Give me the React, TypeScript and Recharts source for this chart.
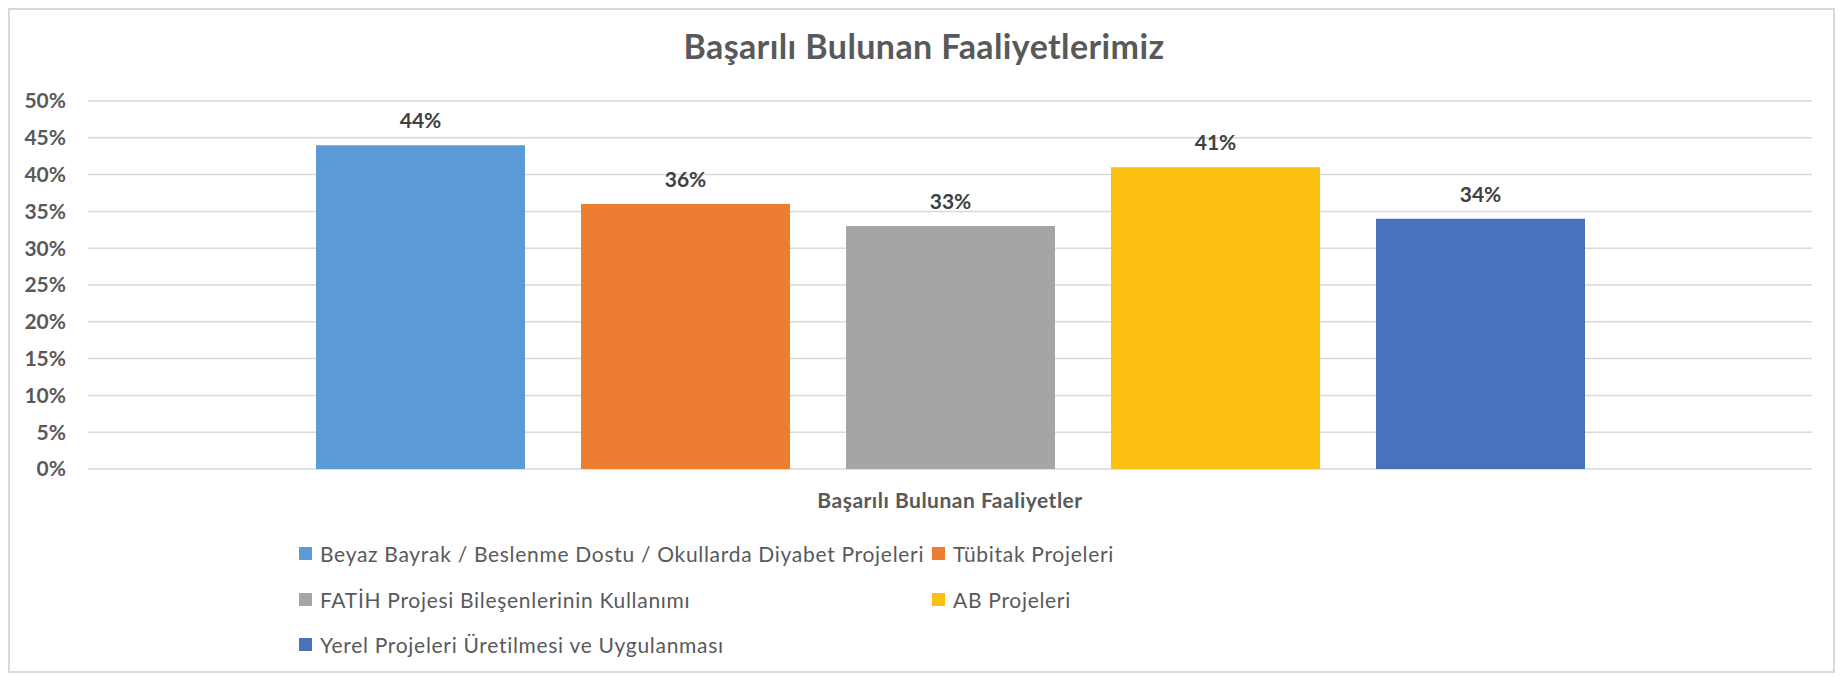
import { BarChart, Bar, XAxis, YAxis, CartesianGrid, LabelList } from "recharts";

const categories = ["Başarılı Bulunan Faaliyetler"];

const seriesNames = [
  "Beyaz Bayrak / Beslenme Dostu / Okullarda Diyabet Projeleri",
  "Tübitak Projeleri",
  "FATİH Projesi Bileşenlerinin Kullanımı",
  "AB Projeleri",
  "Yerel Projeleri Üretilmesi ve Uygulanması",
];

const seriesValues = [44, 36, 33, 41, 34];

const yTicks = [0, 5, 10, 15, 20, 25, 30, 35, 40, 45, 50];

const COLORS = ["#5B9BD5", "#ED7D31", "#A5A5A5", "#FCC012", "#4A72BC"];

const FONT = "Lato, 'Open Sans', sans-serif";

const data = categories.map((name) => {
  const row: Record<string, string | number> = { name };
  seriesValues.forEach((v, i) => {
    row[`s${i}`] = v;
  });
  return row;
});

export default function App() {
  return (
    <div style={{ position: "relative", width: 1843, height: 681, margin: -8, background: "#fff", fontFamily: FONT }}>
      <div
        style={{
          position: "absolute",
          left: 0,
          width: 1848,
          top: 29,
          textAlign: "center",
          fontSize: 34,
          lineHeight: "34px",
          letterSpacing: 0.4,
          fontWeight: 700,
          color: "#595959",
        }}
      >
        Başarılı Bulunan Faaliyetlerimiz
      </div>

      <BarChart
        width={1843}
        height={681}
        data={data}
        margin={{ top: 101, right: 31, bottom: 152, left: 8 }}
        barGap={56}
        style={{ position: "absolute", left: 0, top: 0 }}
      >
        {/* chart frame */}
        <rect x={9} y={9} width={1825} height={663} fill="none" stroke="#d9d9d9" strokeWidth={2} />
        <CartesianGrid vertical={false} stroke="#d9d9d9" strokeWidth={1.5} />
        <XAxis
          dataKey="name"
          height={60}
          axisLine={false}
          tickLine={false}
          tickSize={0}
          tickMargin={24}
          tick={{ fill: "#595959", fontSize: 21, fontWeight: 700, fontFamily: FONT, letterSpacing: 0.5 }}
        />
        <YAxis
          width={80}
          domain={[0, 50]}
          ticks={yTicks}
          interval={0}
          axisLine={false}
          tickLine={false}
          tickSize={0}
          tickMargin={22}
          tickFormatter={(v: number) => `${v}%`}
          tick={{ fill: "#595959", fontSize: 21, fontWeight: 700, fontFamily: FONT }}
        />
        {seriesNames.map((n, i) => (
          <Bar key={n} dataKey={`s${i}`} name={n} fill={COLORS[i]} barSize={209} isAnimationActive={false}>
            <LabelList
              dataKey={`s${i}`}
              position="top"
              offset={17}
              formatter={(v: number) => `${v}%`}
              style={{ fill: "#404040", fontSize: 21, fontWeight: 700, fontFamily: FONT }}
            />
          </Bar>
        ))}
      </BarChart>

      <div
        style={{
          position: "absolute",
          left: 299,
          top: 531,
          display: "grid",
          gridTemplateColumns: "633px auto",
          gridAutoRows: "45.5px",
          fontSize: 21,
          letterSpacing: 0.7,
          color: "#595959",
        }}
      >
        {seriesNames.map((n, i) => (
          <div key={n} style={{ display: "flex", alignItems: "center", whiteSpace: "nowrap" }}>
            <span style={{ width: 13, height: 13, background: COLORS[i], marginRight: 8, flexShrink: 0 }} />
            <span>{n}</span>
          </div>
        ))}
      </div>
    </div>
  );
}
